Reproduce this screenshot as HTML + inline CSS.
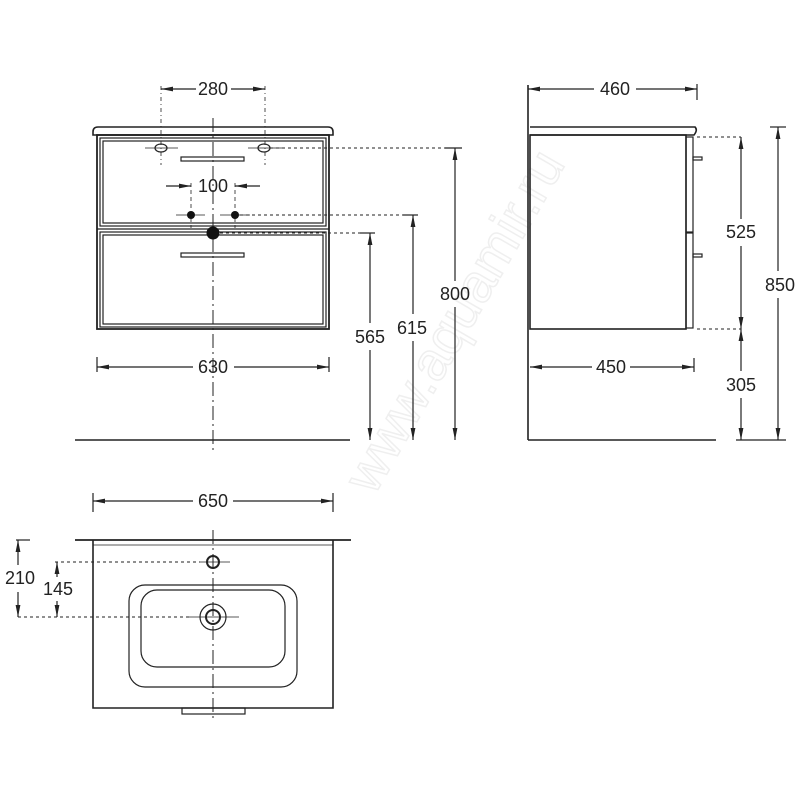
<!DOCTYPE html>
<html><head><meta charset="utf-8"><style>body{margin:0;background:#fff}svg{display:block}text{font-family:"Liberation Sans",sans-serif;font-size:18px;fill:#222;text-anchor:middle}</style></head><body>
<svg width="800" height="800" viewBox="0 0 800 800" xmlns="http://www.w3.org/2000/svg">
<defs><marker id="a" viewBox="0 0 10 6" refX="10" refY="3" markerWidth="10" markerHeight="6" orient="auto-start-reverse"><path d="M0,1 L10,3 L0,5z" fill="#222"/></marker></defs>
<text x="470" y="330" transform="rotate(-60 470 330)" style="font-size:54px;fill:none;stroke:#efefef;stroke-width:1.5">www.aquamir.ru</text>
<g fill="none" stroke="#222" stroke-width="1.2">
<path d="M93,132 Q93,127 98,127 L328,127 Q333,127 333,132 L333,135 L93,135Z" stroke-width="1.6"/>
<rect x="97" y="135" width="232" height="194" stroke-width="1.8"/>
<rect x="100" y="138" width="226" height="88"/><rect x="103" y="141" width="220" height="82"/>
<rect x="100" y="232" width="226" height="95"/><rect x="103" y="235" width="220" height="89"/>
<line x1="97" y1="229" x2="329" y2="229"/>
<rect x="181" y="157" width="63" height="4"/><rect x="181" y="253" width="63" height="4"/>
<line x1="213" y1="118" x2="213" y2="450" stroke-dasharray="14,4,2,4" stroke-width="1"/>
<line x1="161" y1="86" x2="161" y2="165" stroke-dasharray="4,3,1,3" stroke-width="0.8"/>
<line x1="265" y1="86" x2="265" y2="165" stroke-dasharray="4,3,1,3" stroke-width="0.8"/>
<line x1="161" y1="89" x2="196" y2="89" marker-start="url(#a)"/><line x1="231" y1="89" x2="265" y2="89" marker-end="url(#a)"/>
<ellipse cx="161" cy="148" rx="6" ry="4"/><ellipse cx="264" cy="148" rx="6" ry="4"/>
<line x1="145" y1="148" x2="178" y2="148" stroke-width="0.8"/><line x1="248" y1="148" x2="282" y2="148" stroke-width="0.8"/>
<line x1="166" y1="186" x2="191" y2="186" marker-end="url(#a)"/><line x1="260" y1="186" x2="235" y2="186" marker-end="url(#a)"/>
<line x1="191" y1="183" x2="191" y2="228" stroke-dasharray="4,3" stroke-width="0.8"/><line x1="235" y1="183" x2="235" y2="228" stroke-dasharray="4,3" stroke-width="0.8"/>
<line x1="176" y1="215" x2="205" y2="215" stroke-width="0.8"/><line x1="220" y1="215" x2="250" y2="215" stroke-width="0.8"/>
<g stroke-dasharray="3,3" stroke-width="0.9"><line x1="270" y1="148" x2="455" y2="148"/><line x1="240" y1="215" x2="413" y2="215"/><line x1="220" y1="233" x2="370" y2="233"/></g>
<line x1="455" y1="148" x2="455" y2="281" marker-start="url(#a)"/><line x1="455" y1="307" x2="455" y2="440" marker-end="url(#a)"/>
<line x1="413" y1="215" x2="413" y2="314" marker-start="url(#a)"/><line x1="413" y1="341" x2="413" y2="440" marker-end="url(#a)"/>
<line x1="370" y1="233" x2="370" y2="323" marker-start="url(#a)"/><line x1="370" y1="350" x2="370" y2="440" marker-end="url(#a)"/>
<line x1="445" y1="148" x2="462" y2="148"/><line x1="403" y1="215" x2="418" y2="215"/><line x1="360" y1="233" x2="375" y2="233"/>
<line x1="75" y1="440" x2="350" y2="440" stroke-width="1.6"/>
<line x1="97" y1="357" x2="97" y2="372"/><line x1="329" y1="357" x2="329" y2="372"/>
<line x1="97" y1="367" x2="193" y2="367" marker-start="url(#a)"/><line x1="234" y1="367" x2="329" y2="367" marker-end="url(#a)"/>
<line x1="528" y1="85" x2="528" y2="440" stroke-width="1.6"/><line x1="528" y1="440" x2="716" y2="440" stroke-width="1.6"/>
<line x1="697" y1="84" x2="697" y2="100"/>
<line x1="528" y1="89" x2="594" y2="89" marker-start="url(#a)"/><line x1="636" y1="89" x2="697" y2="89" marker-end="url(#a)"/>
<path d="M530,127 L695,127 Q698,130 694,135 L530,135" stroke-width="1.6"/>
<rect x="530" y="135" width="156" height="194" stroke-width="1.6"/>
<rect x="686" y="137" width="7" height="95"/><rect x="686" y="233" width="7" height="95"/>
<rect x="693" y="157" width="9" height="3"/><rect x="693" y="254" width="9" height="3"/>
<g stroke-dasharray="3,3" stroke-width="0.9"><line x1="697" y1="137" x2="741" y2="137"/><line x1="697" y1="329" x2="741" y2="329"/></g>
<line x1="741" y1="137" x2="741" y2="219" marker-start="url(#a)"/><line x1="741" y1="246" x2="741" y2="329" marker-end="url(#a)"/>
<line x1="741" y1="329" x2="741" y2="371" marker-start="url(#a)"/><line x1="741" y1="398" x2="741" y2="440" marker-end="url(#a)"/>
<line x1="770" y1="127" x2="786" y2="127"/><line x1="736" y1="440" x2="786" y2="440"/>
<line x1="778" y1="127" x2="778" y2="271" marker-start="url(#a)"/><line x1="778" y1="298" x2="778" y2="440" marker-end="url(#a)"/>
<line x1="694" y1="358" x2="694" y2="372"/>
<line x1="530" y1="367" x2="592" y2="367" marker-start="url(#a)"/><line x1="630" y1="367" x2="694" y2="367" marker-end="url(#a)"/>
<line x1="93" y1="493" x2="93" y2="512"/><line x1="333" y1="493" x2="333" y2="512"/>
<line x1="93" y1="501" x2="193" y2="501" marker-start="url(#a)"/><line x1="233" y1="501" x2="333" y2="501" marker-end="url(#a)"/>
<line x1="75" y1="540" x2="351" y2="540" stroke-width="1.8"/>
<path d="M93,540 L93,708 L333,708 L333,540" stroke-width="1.6"/>
<line x1="93" y1="545" x2="333" y2="545" stroke-width="0.8"/>
<rect x="129" y="585" width="168" height="102" rx="16"/>
<rect x="141" y="590" width="144" height="77" rx="16"/>
<circle cx="213" cy="562" r="6" stroke-width="2"/>
<circle cx="213" cy="617" r="7" stroke-width="2"/><circle cx="213" cy="617" r="13"/>
<line x1="213" y1="530" x2="213" y2="722" stroke-dasharray="14,4,2,4" stroke-width="1"/>
<line x1="200" y1="562" x2="230" y2="562" stroke-width="0.8"/><line x1="187" y1="617" x2="239" y2="617" stroke-width="0.8"/>
<rect x="182" y="708" width="63" height="6"/>
<g stroke-dasharray="3,3" stroke-width="0.9"><line x1="55" y1="562" x2="200" y2="562"/><line x1="18" y1="617" x2="190" y2="617"/></g>
<line x1="16" y1="540" x2="30" y2="540"/>
<line x1="18" y1="540" x2="18" y2="565" marker-start="url(#a)"/><line x1="18" y1="592" x2="18" y2="617" marker-end="url(#a)"/>
<line x1="57" y1="562" x2="57" y2="577" marker-start="url(#a)"/><line x1="57" y1="601" x2="57" y2="617" marker-end="url(#a)"/>
</g>
<circle cx="191" cy="215" r="4" fill="#111"/><circle cx="235" cy="215" r="4" fill="#111"/>
<circle cx="213" cy="233" r="6.5" fill="#111"/>
<text x="213" y="95">280</text><text x="213" y="192">100</text>
<text x="455" y="300">800</text><text x="412" y="334">615</text><text x="370" y="343">565</text>
<text x="213" y="373">630</text>
<text x="615" y="95">460</text><text x="741" y="238">525</text><text x="780" y="291">850</text><text x="741" y="391">305</text><text x="611" y="373">450</text>
<text x="213" y="507">650</text><text x="20" y="584">210</text><text x="58" y="595">145</text>
</svg>
</body></html>
